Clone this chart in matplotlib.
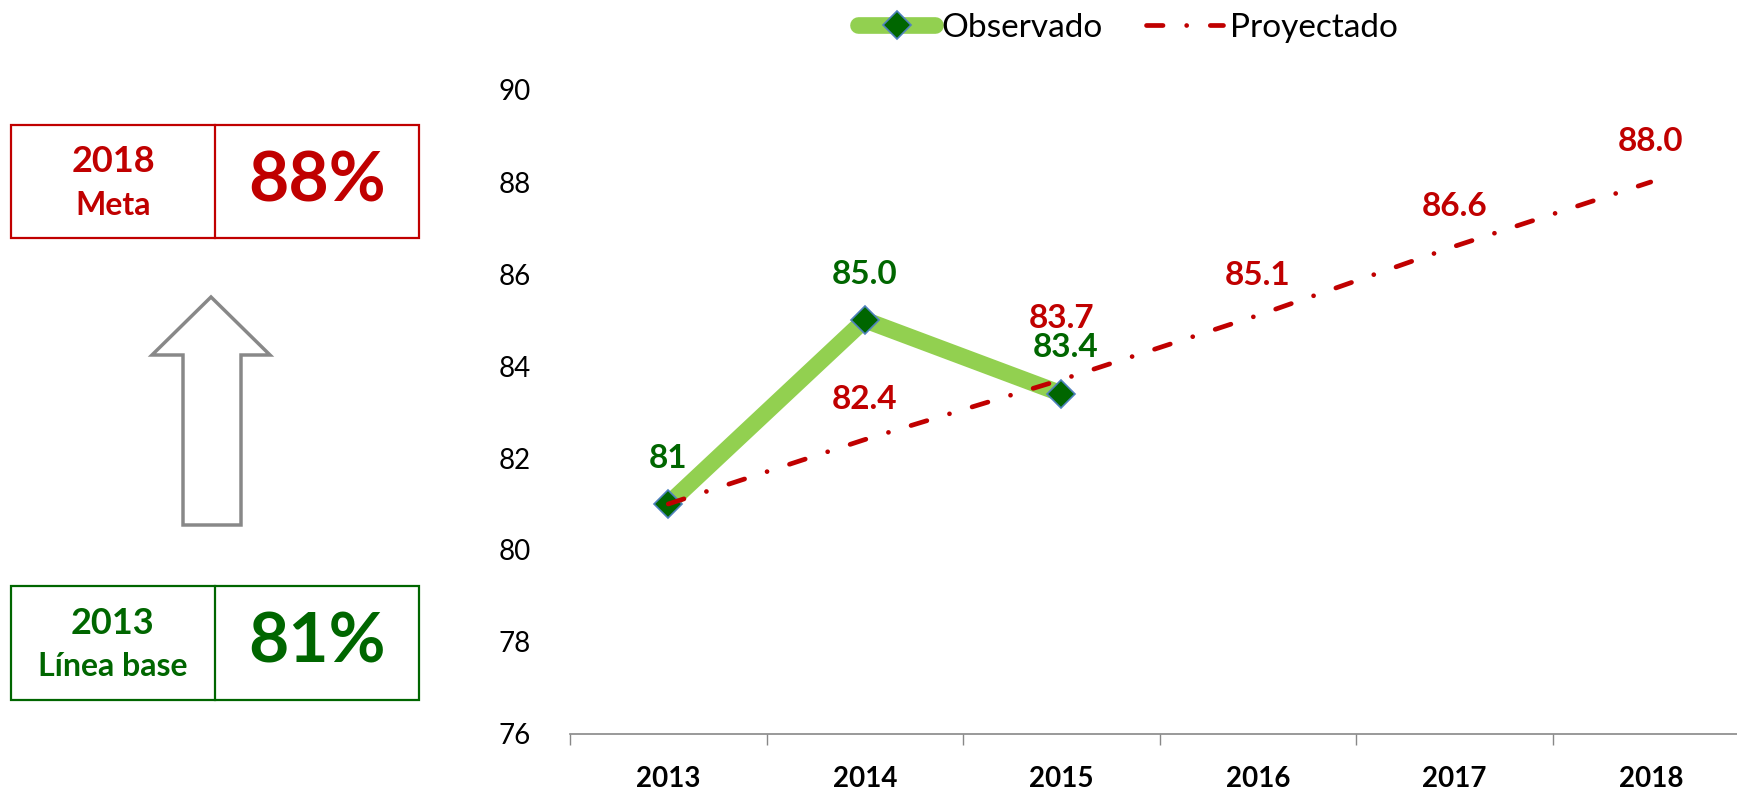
import numpy as np
import matplotlib
matplotlib.use("Agg")
import matplotlib.pyplot as plt
from matplotlib.patches import Rectangle, Polygon
from matplotlib.lines import Line2D

plt.rcParams['font.family'] = ['Lato', 'DejaVu Sans']

# data
years = [2013, 2014, 2015, 2016, 2017, 2018]
obs_years = [2013, 2014, 2015]
observado = [81, 85.0, 83.4]
obs_labels = ["81", "85.0", "83.4"]
proyectado = [81, 82.4, 83.7, 85.1, 86.6, 88.0]
proy_labels = ["", "82.4", "83.7", "85.1", "86.6", "88.0"]
yticks = [76, 78, 80, 82, 84, 86, 88, 90]

RED = "#C00000"
DGREEN = "#006600"
LGREEN = "#92D050"

W, H = 1737, 789
fig = plt.figure(figsize=(W / 100, H / 100), dpi=100)
ax = fig.add_axes([570 / W, 1 - 734 / H, (1749 - 570) / W, (734 - 90) / H])

ax.plot(obs_years, observado, color=LGREEN, lw=12, solid_capstyle='butt',
        marker='D', markersize=14, markerfacecolor=DGREEN,
        markeredgecolor='#4F81BD', markeredgewidth=1.2, zorder=3,
        label='Observado')
ax.plot(years, proyectado, color=RED, lw=3.4, linestyle=(0, (3.5, 5, 0.01, 5)),
        dash_capstyle='round', zorder=4, label='Proyectado')

for x, y, t in zip(obs_years, observado, obs_labels):
    ax.annotate(t, (x, y), xytext=(3 if t == "83.4" else 0, 33),
                textcoords='offset points', ha='center', va='center',
                fontsize=24, fontweight='bold', color=DGREEN)
for x, y, t in zip(years, proyectado, proy_labels):
    off = 44 if t == "83.7" else 29
    ax.annotate(t, (x, y), xytext=(0, off), textcoords='offset points',
                ha='center', va='center', fontsize=24, fontweight='bold',
                color=RED)

ax.set_xlim(2012.5, 2018.5)
ax.set_ylim(76, 90)
ax.set_yticks(yticks)
ax.set_xticks(years)
ax.set_xticks(np.arange(2012.5, 2019, 1), minor=True)
ax.tick_params(axis='x', which='major', length=0, pad=23, labelsize=20)
ax.tick_params(axis='x', which='minor', length=8, width=1, color='#888888')
ax.tick_params(axis='y', length=0, pad=28, labelsize=20)
for lab in ax.get_xticklabels():
    lab.set_fontweight('bold')
for s in ['top', 'right', 'left']:
    ax.spines[s].set_visible(False)
ax.spines['bottom'].set_color('#888888')
ax.spines['bottom'].set_linewidth(1.2)

# legend
h1 = Line2D([], [], color=LGREEN, lw=12, solid_capstyle='round', marker='D',
            markersize=14, markerfacecolor=DGREEN, markeredgecolor='#4F81BD',
            markeredgewidth=1.2)
h2 = Line2D([], [], color=RED, lw=3.4, linestyle=(0, (3.5, 5, 0.01, 5)),
            dash_capstyle='round')
fig.legend([h1, h2], ['Observado', 'Proyectado'], loc='center',
           bbox_to_anchor=(1128 / W, 1 - 28 / H), ncol=2, frameon=False,
           fontsize=24, handlelength=2.3, handletextpad=0.2,
           columnspacing=1.3)

# left side panel in pixel coordinates
ov = fig.add_axes([0, 0, 1, 1])
ov.set_xlim(0, W)
ov.set_ylim(H, 0)
ov.axis('off')

def box(y0, y1, color, t1, t2, big):
    ov.add_patch(Rectangle((11, y0), 408, y1 - y0, fill=False, ec=color, lw=1.6))
    ov.plot([215, 215], [y0, y1], color=color, lw=1.6)
    cy = (y0 + y1) / 2
    ov.text(113, cy - 20, t1, ha='center', va='center', fontsize=26,
            fontweight='bold', color=color)
    ov.text(113, cy + 24, t2, ha='center', va='center', fontsize=23,
            fontweight='bold', color=color)
    ov.text(317, cy, big, ha='center', va='center', fontsize=50,
            fontweight='bold', color=color)

box(125, 238, RED, "2018", "Meta", "88%")
box(586, 700, DGREEN, "2013", "Línea base", "81%")

ov.add_patch(Polygon([(211, 297), (270, 355), (241, 355), (241, 525),
                      (183, 525), (183, 355), (152, 355)], closed=True,
                     fc='white', ec='#888888', lw=2.5))

fig.savefig("out.png", dpi=100)
